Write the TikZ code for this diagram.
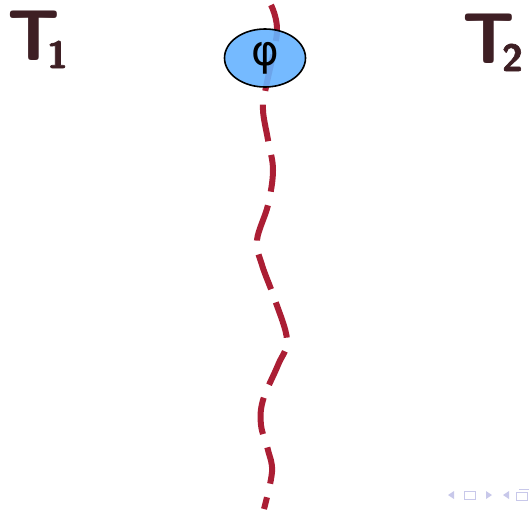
\documentclass[tikz,border=0pt]{standalone}
\usepackage{fontspec}
\usepackage{tikz}
\usetikzlibrary{shapes.geometric}
\newfontfamily\greekfont{DejaVu Sans}
\newfontfamily\subfont[FakeBold=1.6]{lmsans10-bold.otf}
\definecolor{wavered}{HTML}{AB1E34}
\definecolor{phiblue}{HTML}{66B3FF}
\definecolor{titlebrown}{HTML}{3E1F24}
\definecolor{navgray}{HTML}{C8C8EA}
\newcommand{\tsub}[1]{\kern-13pt\raisebox{-8pt}{\subfont\fontsize{38}{38}\selectfont #1}}

\begin{document}
\begin{tikzpicture}[x=1pt,y=-1pt,
  tname/.style={text=titlebrown, font=\sffamily\bfseries\fontsize{72}{72}\selectfont, inner sep=0pt, anchor=base west},
  wave/.style={draw=wavered, line width=6pt, dash pattern=on 37pt off 14pt},
  field/.style={ellipse, draw=black, line width=1.6pt, fill=phiblue, fill opacity=0.9, text opacity=1,
    minimum width=81pt, minimum height=58pt, inner sep=0pt, font=\greekfont\fontsize{42}{42}\selectfont}]
\useasboundingbox (0,0) rectangle (529,509);

% the wavy line
\draw[wave] plot[smooth, tension=0.6] coordinates {(271,5) (277,32) (266,87) (263,110) (268,140) (273,170) (268,205) (257,240) (262,265) (275,300) (287,340) (278,365) (263,400) (261,425) (268,450) (272,472) (264,509)};

\node[field] (phi) at (265,58) {φ};
\node[tname] (t1) at (7,60) {T\tsub{1}};
\node[tname] (t2) at (462,63) {T\tsub{2}};

% navigation symbols
\fill[navgray] (448,495) -- (454,491) -- (454,499) -- cycle;
\draw[navgray, line width=1pt] (464,491) rectangle (475,499);
\fill[navgray] (492,495) -- (486,491) -- (486,499) -- cycle;
\fill[navgray] (503,495) -- (509,491) -- (509,499) -- cycle;
\draw[navgray, line width=1pt] (516,492) rectangle (527,500) (519,489) -- (529,489);
\end{tikzpicture}
\end{document}
